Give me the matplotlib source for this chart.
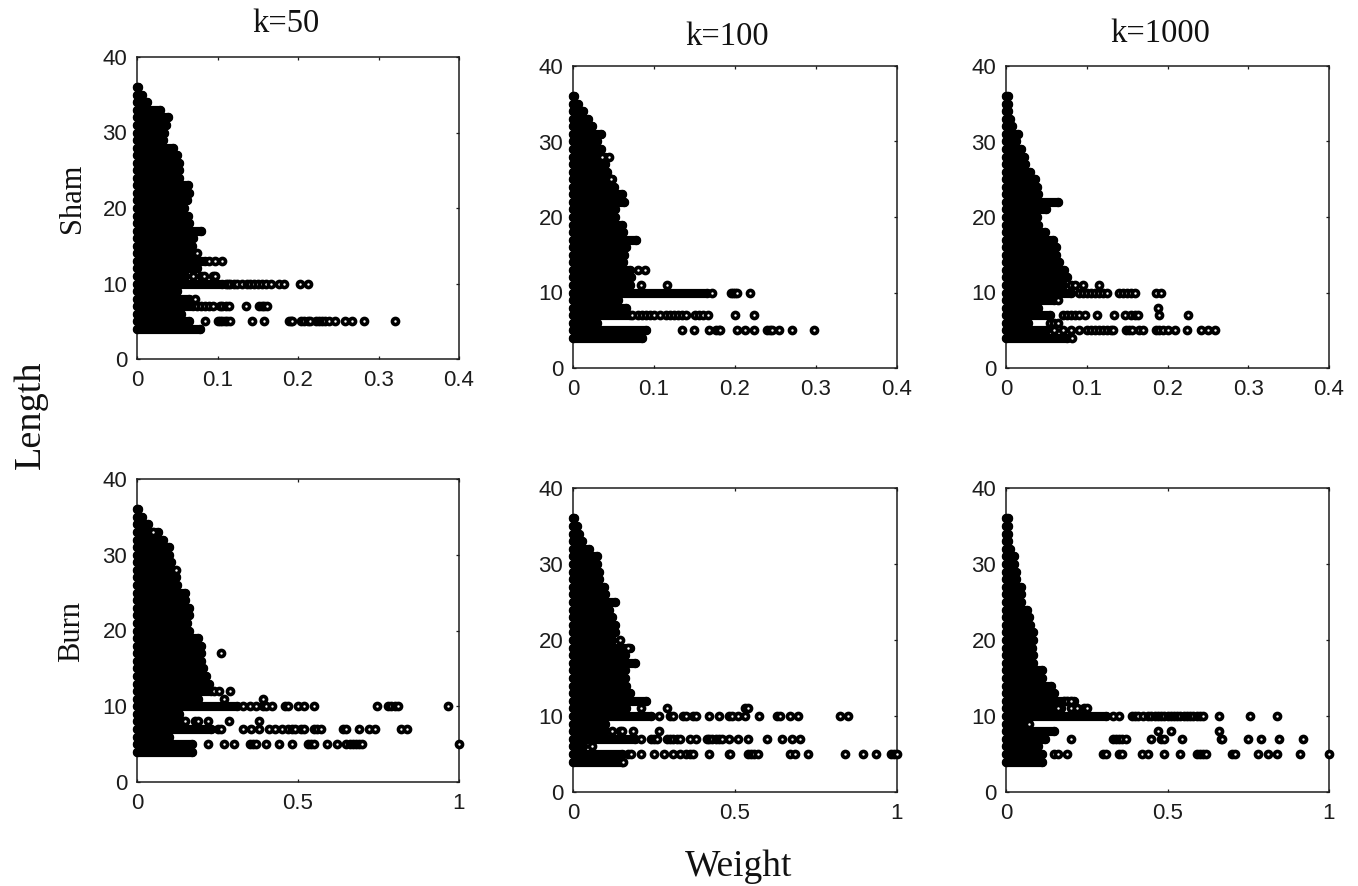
import matplotlib
matplotlib.use("Agg")
import matplotlib.pyplot as plt

W, H = 1358, 886
lengths = list(range(4, 37))

# Dense-mass reach of each length row (length 4 .. 36)
sham50_reach = [.078,.065,.055,.07,.065,.05,.105,.06,.075,.085,.07,.068,.07,.08,.065,.063,.058,.062,.065,.063,.052,.052,.052,.05,.045,.032,.034,.036,.038,.029,.012,.006,.001]
sham100_reach = [.085,.09,.03,.07,.065,.055,.165,.07,.072,.07,.062,.063,.065,.078,.062,.06,.052,.052,.063,.06,.05,.048,.042,.04,.04,.034,.03,.034,.023,.019,.012,.006,.001]
sham1000_reach = [.075,.05,.027,.055,.04,.06,.08,.07,.075,.072,.066,.062,.062,.058,.048,.04,.038,.05,.065,.04,.038,.036,.03,.024,.022,.019,.013,.015,.007,.005,.003,.003,.002]
burn50_reach = [.17,.17,.1,.23,.12,.13,.31,.19,.23,.225,.215,.205,.2,.2,.2,.19,.16,.155,.16,.16,.15,.15,.125,.12,.11,.105,.1,.1,.08,.065,.035,.015,.002]
burn100_reach = [.15,.15,.03,.19,.1,.1,.24,.165,.225,.175,.165,.16,.16,.19,.16,.175,.12,.13,.13,.12,.11,.13,.1,.095,.08,.08,.075,.075,.05,.027,.02,.012,.002]
burn1000_reach = [.11,.11,.1,.12,.15,.05,.31,.17,.21,.15,.14,.11,.11,.085,.085,.08,.085,.085,.075,.07,.065,.045,.045,.045,.03,.03,.025,.025,.012,.005,.005,.005,.005]

# Separate points beyond the dense mass: length -> weights
sham50_points = {
    5: [.085,.10,.103,.106,.109,.112,.115,.143,.158,.189,.191,.193,.204,.208,.212,.215,.222,.226,.23,.234,.238,.246,.259,.267,.282,.32],
    7: [.075,.08,.085,.09,.095,.103,.106,.11,.114,.135,.152,.155,.158,.162],
    8: [.072],
    10: [.11,.113,.116,.12,.124,.13,.137,.14,.145,.15,.155,.16,.167,.177,.182,.202,.212],
    11: [.07,.08,.083,.095,.097],
    13: [.09,.097,.105],
    14: [.075],
}
sham100_points = {
    5: [.134,.149,.168,.177,.18,.182,.203,.212,.223,.24,.243,.246,.254,.27,.298],
    7: [.073,.08,.085,.09,.095,.1,.108,.115,.12,.125,.13,.135,.14,.15,.155,.16,.167,.2,.223],
    10: [.172,.195,.198,.2,.203,.218],
    11: [.084,.116],
    13: [.08,.089],
    25: [.047],
    28: [.036,.045],
}
sham1000_points = {
    4: [.082],
    5: [.06,.07,.08,.09,.10,.105,.11,.115,.12,.125,.13,.132,.148,.152,.156,.165,.17,.186,.19,.195,.2,.209,.224,.241,.25,.259],
    6: [.055,.06,.065],
    7: [.07,.075,.08,.085,.09,.098,.113,.134,.147,.155,.16,.163,.19,.226],
    8: [.188],
    9: [.064],
    10: [.09,.095,.1,.105,.11,.115,.12,.125,.14,.145,.15,.155,.16,.186,.192],
    11: [.08,.085,.095,.115],
}
burn50_points = {
    5: [.22,.27,.3,.35,.36,.37,.4,.44,.48,.53,.54,.55,.59,.62,.65,.66,.67,.68,.69,.7,1.0],
    7: [.25,.26,.33,.355,.38,.41,.43,.45,.47,.48,.49,.51,.52,.55,.56,.57,.64,.65,.69,.72,.74,.82,.84],
    8: [.14,.15,.18,.19,.22,.285,.38],
    10: [.33,.35,.37,.39,.4,.42,.46,.47,.5,.52,.55,.745,.78,.79,.8,.81,.965],
    11: [.27,.39],
    12: [.24,.255,.29],
    17: [.26],
    28: [.12],
    33: [.05],
}
burn100_points = {
    4: [.155],
    5: [.17,.18,.21,.25,.28,.31,.33,.35,.36,.37,.42,.48,.485,.54,.55,.56,.57,.67,.685,.725,.84,.895,.935,.98,.99,1.0],
    6: [.06],
    7: [.21,.24,.25,.26,.29,.3,.31,.32,.33,.36,.38,.415,.42,.43,.44,.45,.46,.48,.51,.54,.6,.645,.675,.7],
    8: [.12,.145,.15,.185,.265],
    10: [.265,.3,.31,.34,.35,.37,.38,.42,.45,.48,.49,.51,.53,.575,.63,.64,.67,.695,.825,.85],
    11: [.21,.29,.53,.54],
    19: [.17],
    20: [.145],
}
burn1000_points = {
    5: [.15,.16,.19,.3,.31,.35,.36,.42,.44,.49,.54,.59,.6,.61,.62,.7,.71,.78,.81,.84,.91,1.0],
    7: [.2,.33,.34,.35,.36,.37,.45,.48,.49,.545,.665,.67,.75,.79,.845,.92],
    8: [.47,.51,.66],
    9: [.07],
    10: [.33,.35,.39,.4,.41,.425,.44,.45,.46,.47,.48,.49,.5,.51,.52,.53,.54,.55,.56,.57,.58,.59,.6,.61,.66,.755,.84],
    11: [.16,.2,.22,.24,.25],
    12: [.18,.19,.2],
}

column_titles = ["k=50", "k=100", "k=1000"]
sham_ticks = [0, 0.1, 0.2, 0.3, 0.4]
burn_ticks = [0, 0.5, 1]
length_ticks = [0, 10, 20, 30, 40]

panels = [
    (sham50_reach, sham50_points, sham_ticks, (137, 459, 57, 359)),
    (sham100_reach, sham100_points, sham_ticks, (573, 897, 66, 368)),
    (sham1000_reach, sham1000_points, sham_ticks, (1006, 1329, 66, 368)),
    (burn50_reach, burn50_points, burn_ticks, (137, 459, 479, 782)),
    (burn100_reach, burn100_points, burn_ticks, (573, 897, 488, 792)),
    (burn1000_reach, burn1000_points, burn_ticks, (1006, 1329, 488, 792)),
]

SERIF = "Liberation Serif"
SANS = "Liberation Sans"
INK = "#1c1c1c"

fig = plt.figure(figsize=(W / 100, H / 100), dpi=100, facecolor="white")
for reach, points, xticks, (l, r, t, b) in panels:
    ax = fig.add_axes([l / W, 1 - b / H, (r - l) / W, (b - t) / H])
    ax.set_xlim(xticks[0], xticks[-1])
    ax.set_ylim(0, 40)
    ax.hlines(lengths, 0, reach, color="black", linewidth=6.6, capstyle="round",
              clip_on=False, zorder=3)
    ax.plot([0] * len(lengths), lengths, "o", color="black", ms=6.8, mew=0,
            clip_on=False, zorder=3)
    ax.plot(reach, lengths, "o", color="black", ms=6.8, mew=0, clip_on=False, zorder=3)
    for length, weights in points.items():
        ax.plot(weights, [length] * len(weights), "o", mfc="white", mec="black",
                ms=4.4, mew=2.6, clip_on=False, zorder=4)
    ax.set_xticks(xticks, [f"{v:g}" for v in xticks], fontsize=16, family=SANS, color=INK)
    ax.set_yticks(length_ticks, [str(v) for v in length_ticks], fontsize=16, family=SANS, color=INK)
    ax.tick_params(direction="in", length=2.5, width=0.9, top=True, right=True, color=INK)
    ax.tick_params(axis="x", pad=8)
    ax.tick_params(axis="y", pad=7)
    for s in ax.spines.values():
        s.set_linewidth(1.1)
        s.set_color(INK)

def label(x, y, s, size, rot=0):
    fig.text(x / W, 1 - y / H, s, ha="center", va="center", rotation=rot,
             fontsize=size, family=SERIF, color="#111111")

for (x, y), s in zip([(286, 24), (727, 37), (1160, 34)], column_titles):
    label(x, y, s, 23.5)
label(72, 198, "Sham", 22, 90)
label(72, 632, "Burn", 22, 90)
label(31, 415, "Length", 27.5, 90)
label(739, 867, "Weight", 27)

fig.savefig("out.png", dpi=100)
